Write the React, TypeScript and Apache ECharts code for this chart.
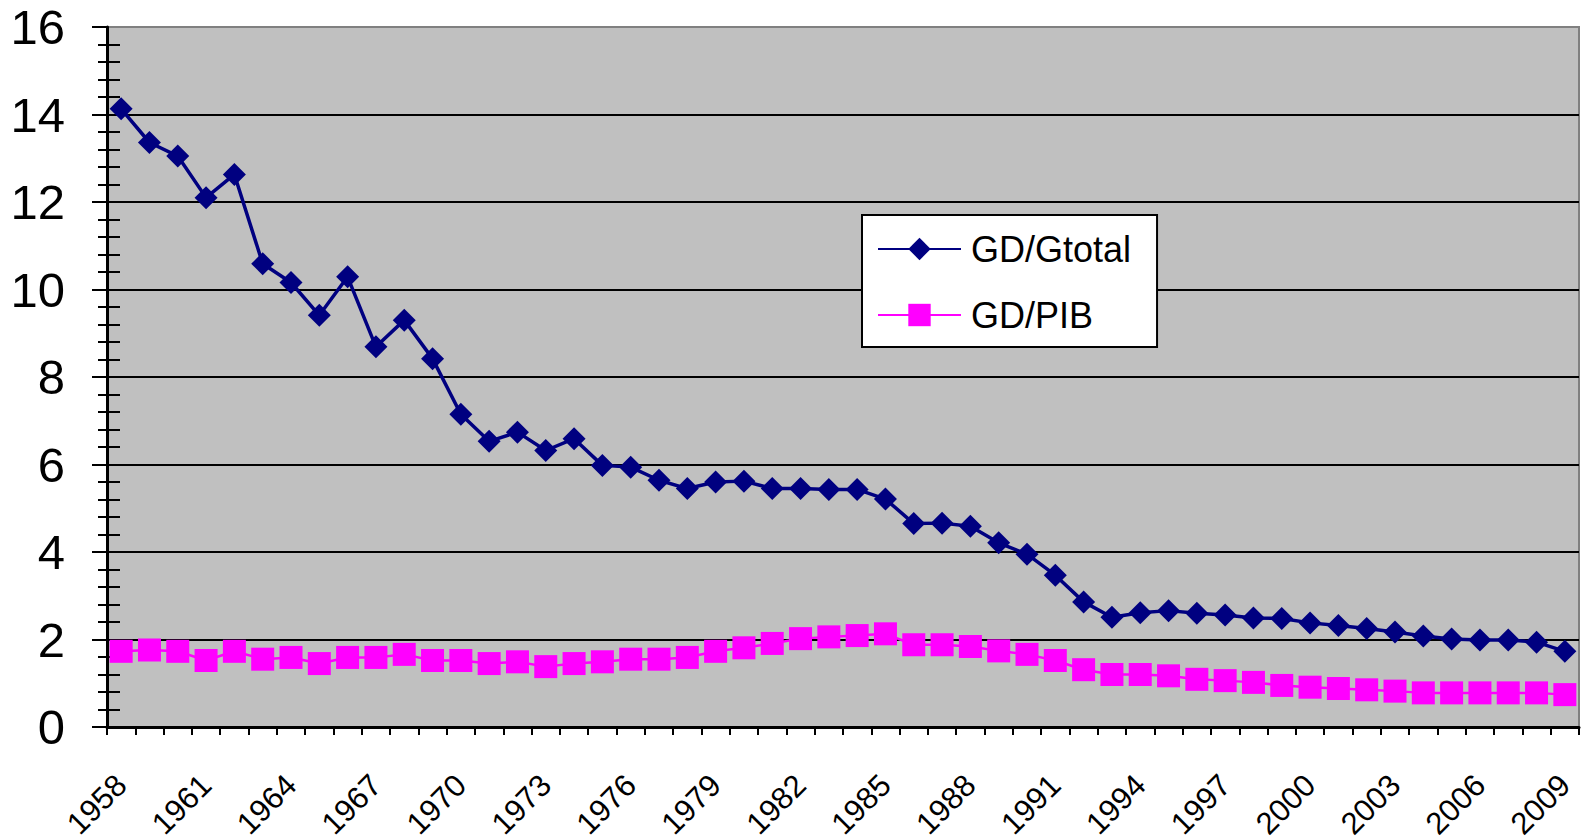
import React, { useEffect, useRef } from "react";
import * as echarts from "echarts";

const years: string[] = [];
for (let y = 1958; y <= 2009; y++) years.push(String(y));

const gdGtotal = [
  14.13, 13.36, 13.05, 12.1, 12.63, 10.59, 10.16, 9.41, 10.29, 8.69, 9.3, 8.42,
  7.15, 6.53, 6.74, 6.32, 6.59, 5.98, 5.94, 5.64, 5.45, 5.6, 5.62, 5.45, 5.45,
  5.43, 5.43, 5.21, 4.65, 4.66, 4.59, 4.21, 3.95, 3.47, 2.86, 2.51, 2.61, 2.66,
  2.6, 2.56, 2.49, 2.48, 2.38, 2.32, 2.25, 2.17, 2.08, 2.01, 1.99, 1.99, 1.94, 1.73,
];

const gdPib = [
  1.73, 1.76, 1.73, 1.52, 1.73, 1.55, 1.59, 1.45, 1.59, 1.59, 1.66, 1.52, 1.52,
  1.45, 1.49, 1.38, 1.45, 1.49, 1.55, 1.55, 1.59, 1.73, 1.81, 1.91, 2.02, 2.06,
  2.09, 2.13, 1.88, 1.88, 1.84, 1.74, 1.66, 1.52, 1.31, 1.2, 1.2, 1.17, 1.09,
  1.06, 1.02, 0.95, 0.91, 0.88, 0.85, 0.82, 0.78, 0.78, 0.78, 0.78, 0.78, 0.74,
];

const seriesNames = ["GD/Gtotal", "GD/PIB"];

const FONT = "'Liberation Sans', Arial, sans-serif";

export default function App() {
  const ref = useRef<HTMLDivElement>(null);
  useEffect(() => {
    if (!ref.current) return;
    const chart = echarts.init(ref.current, undefined, { renderer: "svg" });
    chart.setOption({
      animation: false,
      backgroundColor: "#ffffff",
      grid: {
        left: 107,
        right: 8,
        top: 27,
        bottom: 113,
        containLabel: false,
        outerBoundsMode: "none",
        show: true,
        backgroundColor: "#C0C0C0",
        borderColor: "#808080",
        borderWidth: 2,
      },
      legend: {
        orient: "vertical",
        left: 862,
        top: 215,
        align: "left",
        backgroundColor: "#ffffff",
        borderColor: "#000000",
        borderWidth: 2,
        padding: [16, 26, 14, 15],
        itemWidth: 83,
        itemHeight: 28,
        itemGap: 30,
        textStyle: {
          fontFamily: FONT,
          fontSize: 36,
          lineHeight: 36,
          color: "#000000",
          padding: [0, 0, 0, 5],
        },
        data: seriesNames,
      },
      xAxis: {
        type: "category",
        data: years,
        boundaryGap: true,
        axisLine: { lineStyle: { color: "#000000", width: 3 } },
        axisTick: { show: true, interval: 0, length: 8, lineStyle: { color: "#000000", width: 2 } },
        axisLabel: {
          interval: 2,
          rotate: 45,
          margin: 53,
          fontFamily: FONT,
          fontSize: 31,
          lineHeight: 31,
          color: "#000000",
          hideOverlap: false,
        },
        splitLine: { show: false },
      },
      yAxis: [
        {
          type: "value",
          min: 0,
          max: 16,
          interval: 2,
          axisLine: { show: true, lineStyle: { color: "#000000", width: 3 } },
          axisTick: { show: true, length: 15, lineStyle: { color: "#000000", width: 2 } },
          minorTick: { show: true, splitNumber: 5, length: 9, lineStyle: { color: "#000000", width: 2 } },
          axisLabel: { margin: 42, fontFamily: FONT, fontSize: 49, color: "#000000" },
          splitLine: { show: true, showMaxLine: false, lineStyle: { color: "#000000", width: 2 } },
          minorSplitLine: { show: false },
        },
        {
          type: "value",
          position: "left",
          min: 0,
          max: 16,
          interval: 2,
          axisLine: { show: false },
          axisTick: { show: false, inside: true },
          minorTick: { show: true, splitNumber: 5, length: 13, lineStyle: { color: "#000000", width: 2 } },
          axisLabel: { show: false },
          splitLine: { show: false },
        },
      ],
      series: [
        {
          name: seriesNames[0],
          type: "line",
          data: gdGtotal,
          yAxisIndex: 0,
          symbol: "diamond",
          symbolSize: 23,
          showAllSymbol: true,
          itemStyle: { color: "#000080" },
          lineStyle: { color: "#000080", width: 3.5 },
          z: 3,
        },
        {
          name: seriesNames[1],
          type: "line",
          data: gdPib,
          yAxisIndex: 0,
          symbol: "rect",
          symbolSize: 23,
          showAllSymbol: true,
          itemStyle: { color: "#FF00FF" },
          lineStyle: { color: "#FF00FF", width: 2.5 },
          z: 2,
        },
      ],
    });
    return () => chart.dispose();
  }, []);
  return (
    <div
      ref={ref}
      style={{ position: "fixed", left: 0, top: 0, width: 1587, height: 840 }}
    />
  );
}
